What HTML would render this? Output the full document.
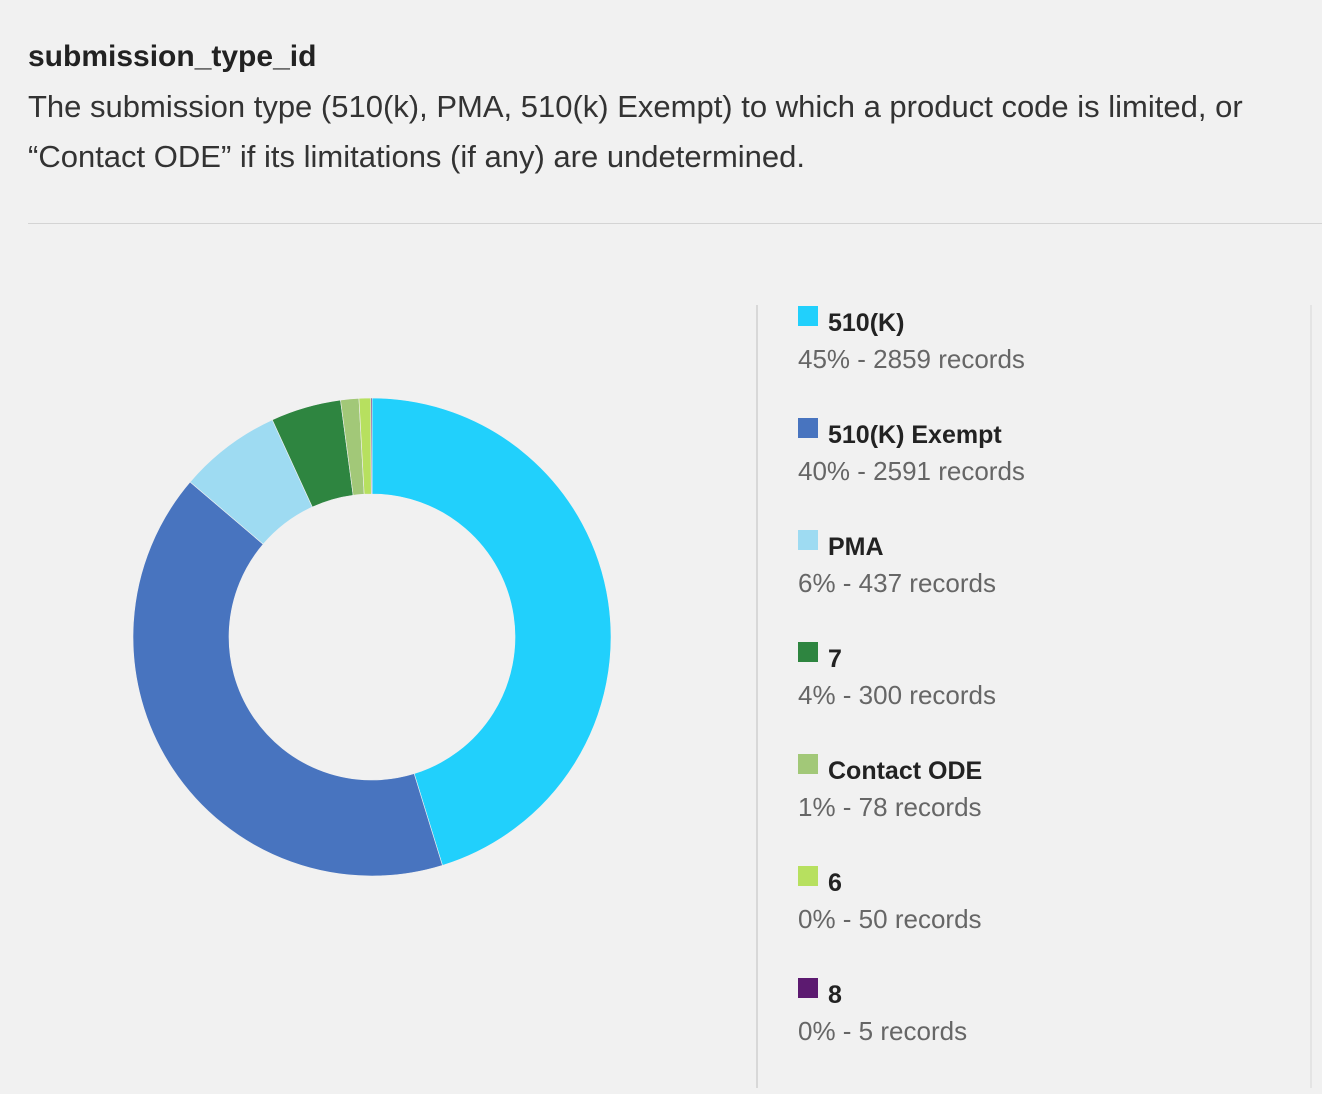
<!DOCTYPE html>
<html><head><meta charset="utf-8"><style>
body{margin:0;width:1322px;height:1094px;background:#f1f1f1;font-family:"Liberation Sans",sans-serif;position:relative;overflow:hidden}
.t{position:absolute;left:28px;top:40px;font-size:30px;font-weight:bold;color:#222}
.d{position:absolute;left:28px;top:82px;font-size:31px;line-height:50px;color:#333;width:1290px;white-space:nowrap}
.hr{position:absolute;left:28px;top:223px;width:1294px;height:1px;background:#d4d4d4}
.vl{position:absolute;left:756px;top:305px;width:2px;height:783px;background:#d8d8d8}
.vr{position:absolute;left:1310px;top:305px;width:2px;height:783px;background:#e4e4e4}
.lg{position:absolute;left:798px}
.sw{position:absolute;left:0;top:0;width:20px;height:20px}
.nm{position:absolute;left:30px;top:3px;font-size:25px;font-weight:bold;color:#222;white-space:nowrap}
.vv{position:absolute;left:0;top:38px;font-size:26px;color:#666;white-space:nowrap}
</style></head><body>
<div class="t">submission_type_id</div>
<div class="d">The submission type (510(k), PMA, 510(k) Exempt) to which a product code is limited, or<br>“Contact ODE” if its limitations (if any) are undetermined.</div>
<div class="hr"></div>
<svg id="chart" width="760" height="1094" style="position:absolute;left:0;top:0"></svg>
<div class="vl"></div>
<div class="vr"></div>
<div id="legend"></div>
<script>
const categories=["510(K)","510(K) Exempt","PMA","7","Contact ODE","6","8"];
const counts=[2859,2591,437,300,78,50,5];
const percents=["45%","40%","6%","4%","1%","0%","0%"];
const colors=["#21d0fc","#4874bf","#9edbf2","#2e8540","#a2c878","#b7e05f","#5c1a70"];
const cx=372,cy=637,R=239,r=143;
const total=counts.reduce((a,b)=>a+b,0);
const svg=document.getElementById('chart');
const NS="http://www.w3.org/2000/svg";
function pt(a,rad){return [cx+rad*Math.sin(a),cy-rad*Math.cos(a)];}
let a0=0;
counts.forEach((c,i)=>{
  const a1=a0+c/total*2*Math.PI;
  const [x0,y0]=pt(a0,R),[x1,y1]=pt(a1,R),[x2,y2]=pt(a1,r),[x3,y3]=pt(a0,r);
  const lf=(a1-a0)>Math.PI?1:0;
  const p=document.createElementNS(NS,'path');
  p.setAttribute('d',`M${x0},${y0}A${R},${R} 0 ${lf} 1 ${x1},${y1}L${x2},${y2}A${r},${r} 0 ${lf} 0 ${x3},${y3}Z`);
  p.setAttribute('fill',colors[i]);
  p.setAttribute('stroke','#f1f1f1');
  p.setAttribute('stroke-width','0.6');
  
  
  svg.appendChild(p);
  a0=a1;
});
const lg=document.getElementById('legend');
categories.forEach((c,i)=>{
  const d=document.createElement('div');
  d.className='lg';d.style.top=(306+112*i)+'px';
  
  
  d.innerHTML=`<div class="sw" style="background:${colors[i]}"></div><div class="nm">${c}</div><div class="vv">${percents[i]} - ${counts[i]} records</div>`;
  lg.appendChild(d);
});
</script>
</body></html>
